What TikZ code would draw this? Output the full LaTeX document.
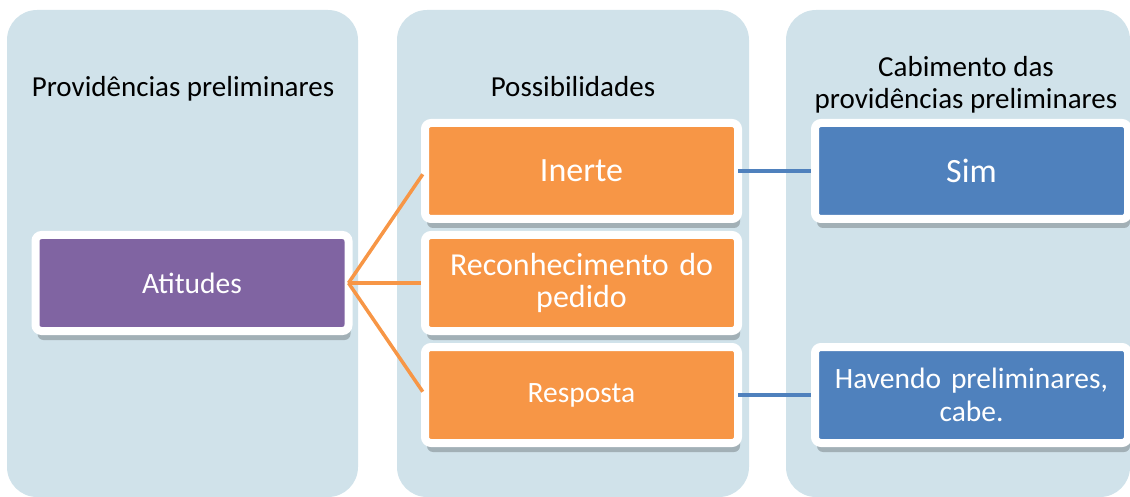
\documentclass[tikz,border=0pt]{standalone}
\usepackage{fontspec}
\setmainfont{Carlito}
\usetikzlibrary{positioning,shadows}
\definecolor{colbg}{RGB}{208,226,234}
\definecolor{roxo}{RGB}{128,100,162}
\definecolor{laranja}{RGB}{247,150,70}
\definecolor{azul}{RGB}{79,129,189}

\begin{document}
\begin{tikzpicture}[
x=1pt, y=-1pt,
node distance=112pt,
colunabox/.style={fill=colbg, rounded corners=30pt},
caixa/.style={rectangle, rounded corners=6pt, draw=white, line width=8pt, outer sep=0pt, minimum width=313pt, minimum height=96pt, text width=300pt, align=center, execute at begin node=\centering, text=white, drop shadow={shadow xshift=2pt, shadow yshift=-9pt, fill=black, opacity=0.22}},
titulo/.style={align=center, anchor=base, font=\fontsize{29}{32}\selectfont},
]
\useasboundingbox (0,0) rectangle (1130,497);
%Columns
\fill[colunabox] (7,10) rectangle (358,497);
\fill[colunabox] (397,10) rectangle (749,497);
\fill[colunabox] (786,10) rectangle (1130,497);

%Titles
\node[titulo] (t1) at (183,97)  {Providências preliminares};
\node[titulo] (t2) at (573,97)  {Possibilidades};
\node[titulo] (t3) at (966,109) {Cabimento das\\providências preliminares};

%Nodes
\node[caixa, fill=roxo, font=\fontsize{29.5}{33}\selectfont]    (atitudes)       at (192,283)                               {Atitudes};
\node[caixa, fill=laranja, font=\fontsize{32}{32}\selectfont]   (reconhecimento) [right of = atitudes, node distance=389.5pt] {Reconhecimento do\\pedido};
\node[caixa, fill=laranja, font=\fontsize{34}{36}\selectfont]   (inerte)         [above of = reconhecimento]              {Inerte};
\node[caixa, fill=laranja, font=\fontsize{29.5}{33}\selectfont] (resposta)       [below of = reconhecimento]              {Resposta};
\node[caixa, fill=azul, font=\fontsize{34}{36}\selectfont]      (sim)            [right of = inerte, node distance=390pt] {Sim};
\node[caixa, fill=azul, font=\fontsize{29.5}{33}\selectfont]    (havendo)        [right of = resposta, node distance=390pt] {Havendo preliminares,\\cabe.};

%Lines
\draw[laranja, line width=3.5pt, shorten >=4pt] (atitudes.east) -- (inerte.west);
\draw[laranja, line width=3.5pt, shorten >=4pt] (atitudes.east) -- (reconhecimento.west);
\draw[laranja, line width=3.5pt, shorten >=4pt] (atitudes.east) -- (resposta.west);
\draw[azul, line width=4pt, shorten >=4pt] (inerte.east) -- (sim.west);
\draw[azul, line width=4pt, shorten >=4pt] (resposta.east) -- (havendo.west);

\end{tikzpicture}
\end{document}
